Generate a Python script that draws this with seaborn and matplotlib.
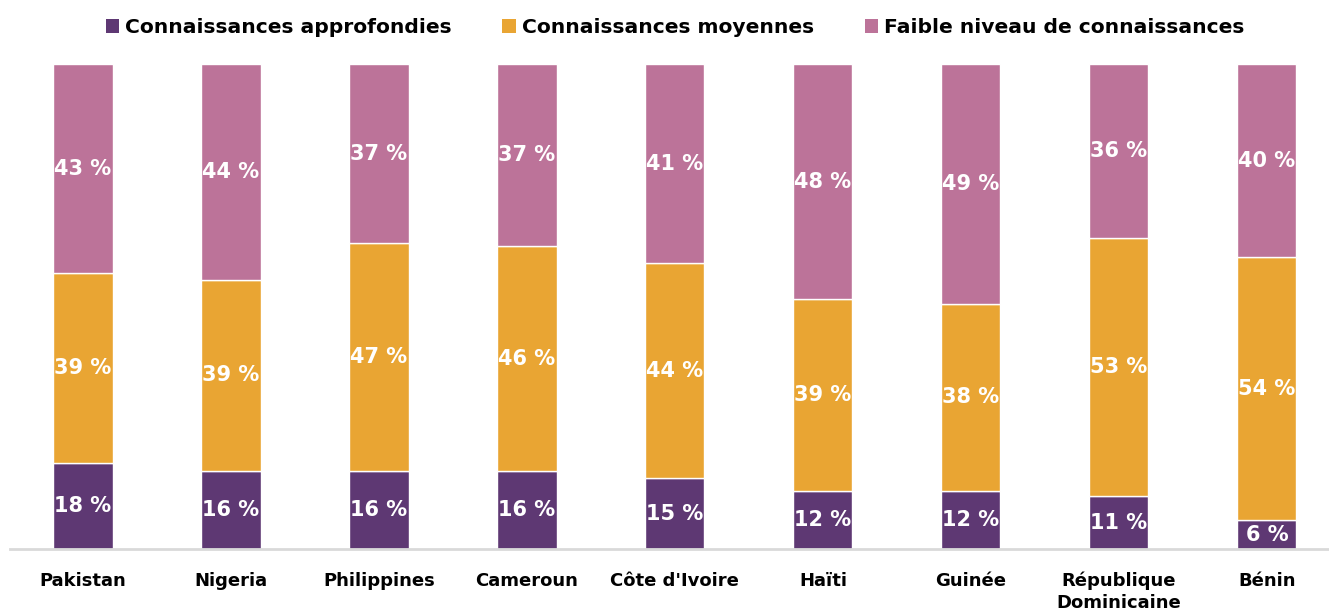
import seaborn as sns
import matplotlib.pyplot as plt
import pandas as pd
from matplotlib.patches import Patch

countries = ["Pakistan", "Nigeria", "Philippines", "Cameroun", "Côte d'Ivoire",
             "Haïti", "Guinée", "République\nDominicaine", "Bénin"]

# segment shares
approfondies = [17.7, 16.2, 16.1, 16.1, 14.7, 12.1, 12.1, 11.0, 6.0]
moyennes = [39.3, 39.3, 47.0, 46.4, 44.3, 39.5, 38.5, 53.1, 54.2]
faible = [43.0, 44.5, 36.9, 37.5, 41.0, 48.4, 49.4, 35.9, 39.8]

# printed labels
lab_approfondies = [18, 16, 16, 16, 15, 12, 12, 11, 6]
lab_moyennes = [39, 39, 47, 46, 44, 39, 38, 53, 54]
lab_faible = [43, 44, 37, 37, 41, 48, 49, 36, 40]

series = ["Connaissances approfondies", "Connaissances moyennes", "Faible niveau de connaissances"]
colors = ["#5E3873", "#E9A533", "#BC7399"]

df = pd.DataFrame({"pays": countries, "a": approfondies, "m": moyennes, "f": faible})
df["base_m"] = df["a"]
df["base_f"] = df["a"] + df["m"]

sns.set_style("white")
plt.rcParams["font.family"] = ["DejaVu Sans"]

fig = plt.figure(figsize=(13.29, 6.14), dpi=100)
ax = fig.add_axes([10 / 1329, 0.1054, 1319 / 1329, 0.7899])

sns.barplot(data=df, x="pays", y="a", color=colors[0], width=0.4, saturation=1, ax=ax)
sns.barplot(data=df, x="pays", y="m", bottom=df["base_m"], color=colors[1], width=0.4, saturation=1, ax=ax)
sns.barplot(data=df, x="pays", y="f", bottom=df["base_f"], color=colors[2], width=0.4, saturation=1, ax=ax)

for cont, labs in zip(ax.containers, [lab_approfondies, lab_moyennes, lab_faible]):
    ax.bar_label(cont, labels=[f"{v} %" for v in labs], label_type="center",
                 color="white", fontweight="bold", fontsize=15)

ax.set_ylim(0, 100)
ax.set_xlim(-0.493, 8.42)
ax.set_xlabel("")
ax.set_ylabel("")
ax.set_yticks([])
for s in ["top", "left", "right"]:
    ax.spines[s].set_visible(False)
ax.spines["bottom"].set_color("#D9D9D9")
ax.spines["bottom"].set_linewidth(2)
ax.tick_params(axis="x", length=0, pad=16)
for t in ax.get_xticklabels():
    t.set_fontweight("bold")
    t.set_fontsize(13)
    t.set_color("black")
    t.set_linespacing(1.25)

handles = [Patch(facecolor=c, edgecolor="none") for c in colors]
leg = fig.legend(handles, series, loc="upper center", bbox_to_anchor=(0.508, 1.0), ncol=3,
                 frameon=False, prop={"weight": "bold", "size": 14.6},
                 handlelength=0.66, handleheight=0.66, handletextpad=0.3, columnspacing=2.5)
for t in leg.get_texts():
    t.set_color("black")

fig.savefig("out.png", dpi=100)
